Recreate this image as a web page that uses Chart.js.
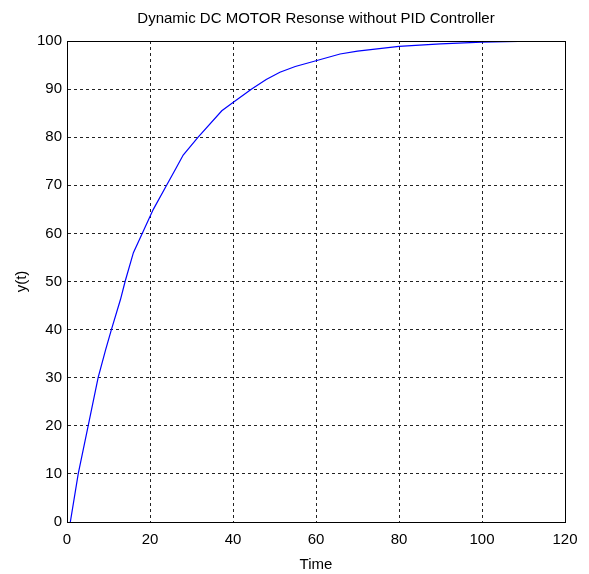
<!DOCTYPE html>
<html>
<head>
<meta charset="utf-8">
<script src="https://cdn.jsdelivr.net/npm/chart.js@4.4.1/dist/chart.umd.min.js"></script>
<style>
  html, body { margin: 0; padding: 0; background: #fff; }
  #wrap { width: 589px; height: 574px; }
</style>
</head>
<body>
<div id="wrap"><canvas id="chart" width="589" height="574"></canvas></div>
<script>
// motor speed response, time vs output
const timeVals = [0.8, 2.7, 5.1, 7.5, 9.3, 10.7, 12.9, 14.0, 16.0, 18.4, 20.8, 24.0, 26.3, 28.0, 31.6, 37.3, 40.0, 44.5, 48.0, 51.3, 55.0, 60.0, 65.8, 70.0, 80.0, 90.0, 100.0, 114.6];
const response = [0, 10, 20, 30, 35.8, 40, 46.3, 50, 56.0, 60.5, 65.0, 70, 73.6, 76.3, 80, 85.5, 87.2, 90, 92.0, 93.5, 94.7, 95.9, 97.3, 97.9, 98.9, 99.4, 99.75, 100];

const xTicks = [0, 20, 40, 60, 80, 100, 120];
const yTicks = [0, 10, 20, 30, 40, 50, 60, 70, 80, 90, 100];

const chartTitle = 'Dynamic DC MOTOR Resonse without PID Controller';
const FONT = "'Liberation Sans', Arial, sans-serif";

// box round the plot area + title centred over it
const frame = {
  id: 'frame',
  afterDraw(chart) {
    const a = chart.chartArea;
    const ctx = chart.ctx;
    ctx.save();
    ctx.strokeStyle = '#000';
    ctx.lineWidth = 1;
    ctx.strokeRect(Math.round(a.left) + 0.5, Math.round(a.top) + 0.5,
      Math.round(a.right - a.left), Math.round(a.bottom - a.top));
    ctx.fillStyle = '#000';
    ctx.font = '15px ' + FONT;
    ctx.textAlign = 'center';
    ctx.textBaseline = 'middle';
    ctx.fillText(chartTitle, (a.left + a.right) / 2, 19);
    ctx.restore();
  }
};

new Chart(document.getElementById('chart'), {
  type: 'line',
  data: {
    datasets: [{
      data: timeVals.map((t, i) => ({ x: t, y: response[i] })),
      borderColor: '#0000ff',
      borderWidth: 1.2,
      pointRadius: 0,
      tension: 0,
      fill: false
    }]
  },
  options: {
    responsive: false,
    animation: false,
    layout: { padding: { left: 0, right: 24, top: 41, bottom: 0 } },
    plugins: {
      legend: { display: false },
      tooltip: { enabled: false },
      title: { display: false }
    },
    scales: {
      x: {
        type: 'linear',
        min: 0, max: 120,
        afterBuildTicks: s => { s.ticks = xTicks.map(v => ({ value: v })); },
        afterFit: s => { s.height = 52; },
        grid: { color: '#222', lineWidth: 1, drawTicks: false },
        border: { display: true, color: '#000', dash: [3, 3] },
        ticks: { color: '#000', padding: 9, maxRotation: 0, font: { family: FONT, size: 15 } },
        title: { display: true, text: 'Time', color: '#000', padding: 0, font: { family: FONT, size: 15 } }
      },
      y: {
        type: 'linear',
        min: 0, max: 100,
        afterBuildTicks: s => { s.ticks = yTicks.map(v => ({ value: v })); },
        afterFit: s => { s.width = 67; },
        grid: { color: '#222', lineWidth: 1, drawTicks: false },
        border: { display: true, color: '#000', dash: [3, 3] },
        ticks: { color: '#000', padding: 5, font: { family: FONT, size: 15 } },
        title: { display: true, text: 'y(t)', color: '#000', padding: { top: 13, bottom: 0 }, font: { family: FONT, size: 15 } }
      }
    }
  },
  plugins: [frame]
});
</script>
</body>
</html>
